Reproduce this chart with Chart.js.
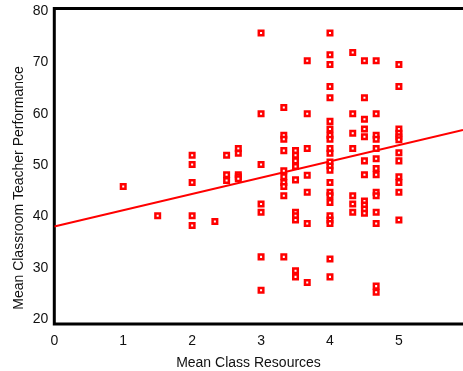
<!DOCTYPE html>
<html>
<head>
<meta charset="utf-8">
<script src="https://cdn.jsdelivr.net/npm/chart.js@4.4.0/dist/chart.umd.min.js"></script>
<style>
html, body { margin: 0; padding: 0; background: #fff; overflow: hidden; }
canvas { display: block; }
</style>
</head>
<body>
<canvas id="myChart" width="463" height="371"></canvas>
<script>
const xTicks = [0, 1, 2, 3, 4, 5];
const yTicks = [20, 30, 40, 50, 60, 70, 80];
const xTitle = 'Mean Class Resources';
const yTitle = 'Mean Classroom Teacher Performance';

// one entry per school: mean class resources / mean teacher performance
const resources = [
  1,
  1.5,
  2, 2, 2, 2, 2,
  2.33,
  2.5, 2.5, 2.5,
  2.67, 2.67, 2.67, 2.67, 2.67,
  3, 3, 3, 3, 3, 3, 3,
  3.33, 3.33, 3.33, 3.33, 3.33, 3.33, 3.33, 3.33, 3.33, 3.33,
  3.5, 3.5, 3.5, 3.5, 3.5, 3.5, 3.5, 3.5, 3.5, 3.5,
  3.67, 3.67, 3.67, 3.67, 3.67, 3.67, 3.67,
  4, 4, 4, 4, 4, 4, 4, 4, 4, 4, 4, 4, 4, 4, 4, 4, 4, 4, 4, 4, 4, 4, 4,
  4.33, 4.33, 4.33, 4.33, 4.33, 4.33, 4.33,
  4.5, 4.5, 4.5, 4.5, 4.5, 4.5, 4.5, 4.5, 4.5, 4.5, 4.5,
  4.67, 4.67, 4.67, 4.67, 4.67, 4.67, 4.67, 4.67, 4.67, 4.67, 4.67, 4.67, 4.67, 4.67,
  5, 5, 5, 5, 5, 5, 5, 5, 5, 5, 5, 5
];
const performance = [
  45.8,
  40.1,
  51.9, 50.1, 46.6, 40.1, 38.2,
  39.0,
  51.9, 48.1, 47.0,
  53.2, 52.3, 48.1, 47.7, 47.3,
  75.7, 60.0, 50.1, 42.4, 40.8, 32.1, 25.6,
  61.2, 55.8, 55.0, 52.8, 48.9, 47.7, 46.6, 45.8, 44.0, 32.1,
  52.8, 51.9, 50.8, 49.7, 47.1, 40.8, 40.1, 39.3, 29.4, 28.2,
  70.3, 60.0, 53.2, 48.0, 44.7, 38.6, 27.1,
  75.7, 71.5, 69.6, 65.3, 63.1, 58.5, 57.0, 55.8, 55.0, 53.2, 52.3, 50.6, 49.8, 49.0, 46.6, 44.7, 44.0, 42.7, 40.1, 39.3, 38.6, 31.7, 28.2,
  71.9, 60.0, 56.2, 53.2, 44.0, 42.4, 40.8,
  70.3, 63.1, 58.9, 57.0, 55.5, 50.8, 48.1, 43.0, 42.2, 41.4, 40.6,
  70.3, 60.0, 55.8, 55.0, 53.2, 51.2, 49.3, 48.1, 44.7, 44.0, 40.8, 38.6, 26.4, 25.2,
  69.6, 65.3, 57.0, 56.2, 55.5, 54.9, 52.4, 50.8, 47.7, 46.6, 44.7, 39.3
];
// fitted line, read at the left axis and at the right edge of the picture
const fitX = [0, 5.93];
const fitY = [38.0, 56.8];

const points = resources.map((x, i) => ({x: x, y: performance[i]}));
const fitLine = fitX.map((x, i) => ({x: x, y: fitY[i]}));
const font = {family: '"Liberation Sans", Arial, sans-serif', size: 14};

// plot frame: top, left and bottom (the right side runs off the picture)
const framePlugin = {
  id: 'frame',
  beforeDatasetsDraw(chart) {
    const ctx = chart.ctx;
    const a = chart.chartArea;
    ctx.save();
    ctx.strokeStyle = '#000';
    ctx.lineWidth = 3;
    ctx.beginPath();
    ctx.moveTo(a.right + 5, a.top);
    ctx.lineTo(a.left, a.top);
    ctx.lineTo(a.left, a.bottom);
    ctx.lineTo(a.right + 5, a.bottom);
    ctx.stroke();
    ctx.restore();
  },
  afterDraw(chart) {
    const ctx = chart.ctx;
    ctx.save();
    ctx.fillStyle = '#111';
    ctx.font = '14px ' + font.family;
    ctx.textAlign = 'center';
    ctx.textBaseline = 'alphabetic';
    ctx.fillText(xTitle, 248.5, 367);
    ctx.translate(23, 188);
    ctx.rotate(-Math.PI / 2);
    ctx.fillText(yTitle, 0, 0);
    ctx.restore();
  }
};

const ctx = document.getElementById('myChart').getContext('2d');
const myChart = new Chart(ctx, {
  type: 'scatter',
  data: {
    datasets: [{
      data: points,
      pointStyle: 'rect',
      pointRadius: 3.2,
      pointBorderWidth: 2.5,
      borderColor: '#ff0000',
      backgroundColor: '#ffffff',
      order: 1
    }, {
      type: 'line',
      data: fitLine,
      borderColor: '#ff0000',
      borderWidth: 2,
      pointRadius: 0,
      fill: false,
      order: 2
    }]
  },
  options: {
    responsive: false,
    animation: false,
    events: [],
    layout: {autoPadding: false, padding: {top: 8.5, right: 0, left: 0, bottom: 0}},
    plugins: {legend: {display: false}, tooltip: {enabled: false}},
    scales: {
      x: {
        type: 'linear',
        min: 0,
        max: 5.93,
        afterBuildTicks: (s) => { s.ticks = xTicks.map(v => ({value: v})); },
        afterFit: (s) => { s.height = 47; s.paddingLeft = 0; s.paddingRight = 0; },
        grid: {display: false, drawTicks: false},
        border: {display: false},
        ticks: {color: '#111', font: font, padding: 9}
      },
      y: {
        type: 'linear',
        min: 19.02,
        max: 80.49,
        afterBuildTicks: (s) => { s.ticks = yTicks.map(v => ({value: v})); },
        afterFit: (s) => { s.width = 54.3; s.paddingTop = 0; s.paddingBottom = 0; },
        grid: {display: false, drawTicks: false},
        border: {display: false},
        ticks: {color: '#111', font: font, padding: 6}
      }
    }
  },
  plugins: [framePlugin]
});
</script>
</body>
</html>
